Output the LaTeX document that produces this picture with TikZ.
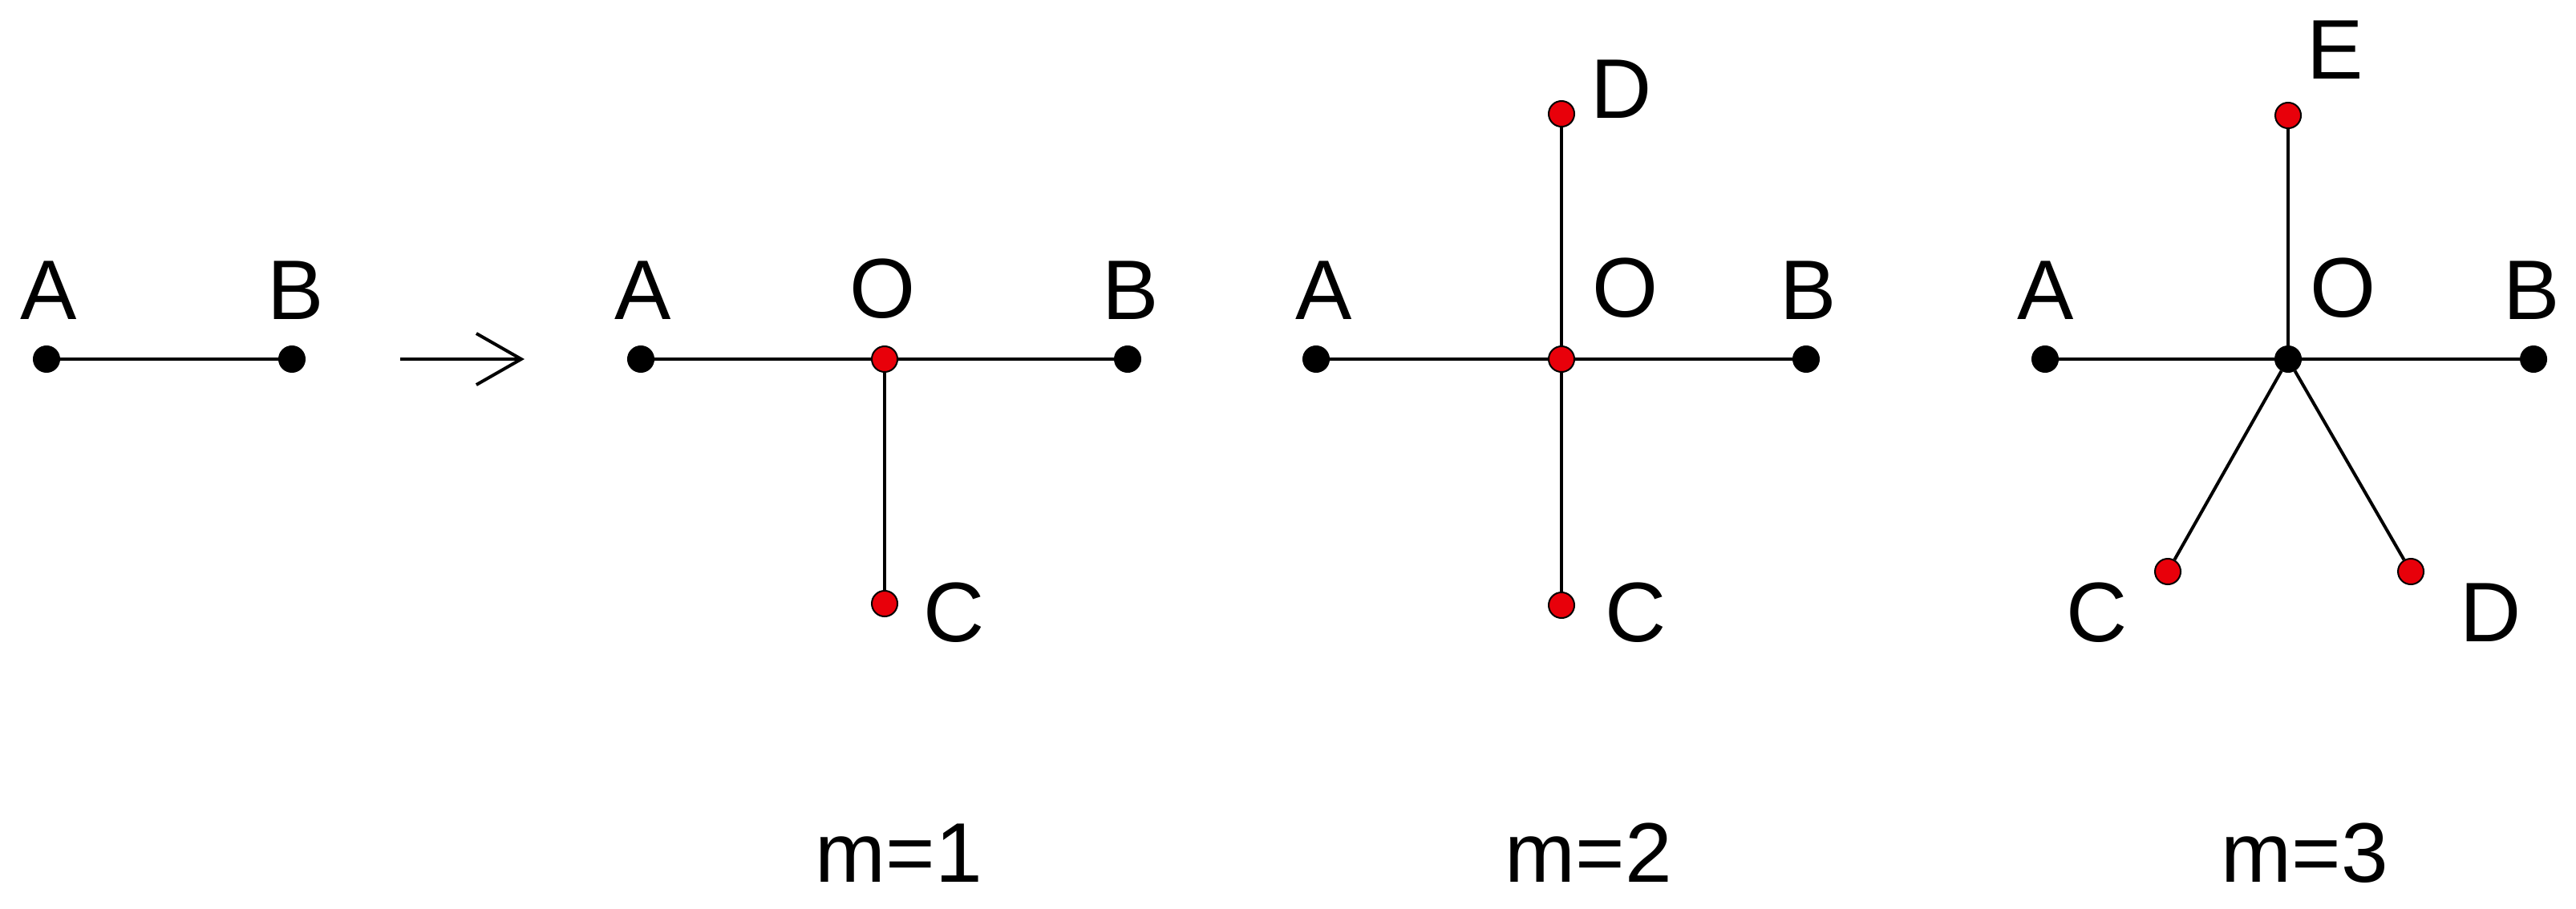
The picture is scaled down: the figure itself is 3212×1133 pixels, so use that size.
\documentclass[tikz,border=0pt]{standalone}
\usepackage{fontspec}
\setmainfont{Liberation Sans}
\usetikzlibrary{arrows.meta}
\definecolor{dotred}{RGB}{232,0,10}
\tikzset{
  blackdot/.style={circle, fill=black, draw=black, line width=0.02cm, minimum size=0.32cm, inner sep=0pt},
  reddot/.style={circle, fill=dotred, draw=black, line width=0.02cm, minimum size=0.32cm, inner sep=0pt},
  edge/.style={line width=0.04cm, black},
  lbl/.style={anchor=base, inner sep=0pt, font=\fontsize{30pt}{36pt}\selectfont},
}
\begin{document}
\begin{tikzpicture}[x=0.01cm,y=-0.01cm]
\useasboundingbox (0,0) rectangle (3212,1133);
% Panel 1
\node[blackdot] (a1) at (58,448) {};
\node[blackdot] (b1) at (364,448) {};
\draw[edge] (a1) -- (b1);
\node[lbl] (la1) at (61,398) {A};
\node[lbl] (lb1) at (369,398) {B};
% arrow
\coordinate (arS) at (499,448);
\coordinate (arE) at (654,448);
\draw[edge, -{Straight Barb[length=0.56cm, width=0.64cm, line width=0.04cm]}] (arS) -- (arE);
% Panel 2
\node[blackdot] (a2) at (799,448) {};
\node[reddot] (o2) at (1103,448) {};
\node[blackdot] (b2) at (1406,448) {};
\node[reddot] (c2) at (1103,753) {};
\draw[edge] (a2) -- (o2) -- (b2);
\draw[edge] (o2) -- (c2);
\node[lbl] (la2) at (802,398) {A};
\node[lbl] (lo2) at (1101,396) {O};
\node[lbl] (lb2) at (1410,398) {B};
\node[lbl] (lc2) at (1190,800) {C};
% Panel 3
\node[blackdot] (a3) at (1641,448) {};
\node[reddot] (o3) at (1947,448) {};
\node[blackdot] (b3) at (2252,448) {};
\node[reddot] (d3) at (1947,142) {};
\node[reddot] (c3) at (1947,755) {};
\draw[edge] (a3) -- (o3) -- (b3);
\draw[edge] (d3) -- (o3) -- (c3);
\node[lbl] (ld3) at (2022,147) {D};
\node[lbl] (la3) at (1651,398) {A};
\node[lbl] (lo3) at (2027,395) {O};
\node[lbl] (lb3) at (2255,398) {B};
\node[lbl] (lc3) at (2040,800) {C};
% Panel 4
\node[blackdot] (a4) at (2550,448) {};
\node[blackdot] (o4) at (2853,448) {};
\node[blackdot] (b4) at (3159,448) {};
\node[reddot] (e4) at (2853,144) {};
\node[reddot] (c4) at (2703,713) {};
\node[reddot] (d4) at (3006,713) {};
\draw[edge] (a4) -- (o4) -- (b4);
\draw[edge] (e4) -- (o4);
\draw[edge] (o4) -- (c4);
\draw[edge] (o4) -- (d4);
\node[lbl] (le4) at (2912,98) {E};
\node[lbl] (la4) at (2551,398) {A};
\node[lbl] (lo4) at (2921,395) {O};
\node[lbl] (lb4) at (3157,398) {B};
\node[lbl] (lc4) at (2615,800) {C};
\node[lbl] (ld4) at (3106,800) {D};
% captions
\node[lbl] (m1) at (1121,1100) {m=1};
\node[lbl] (m2) at (1981,1100) {m=2};
\node[lbl] (m3) at (2874,1100) {m=3};
\end{tikzpicture}
\end{document}
